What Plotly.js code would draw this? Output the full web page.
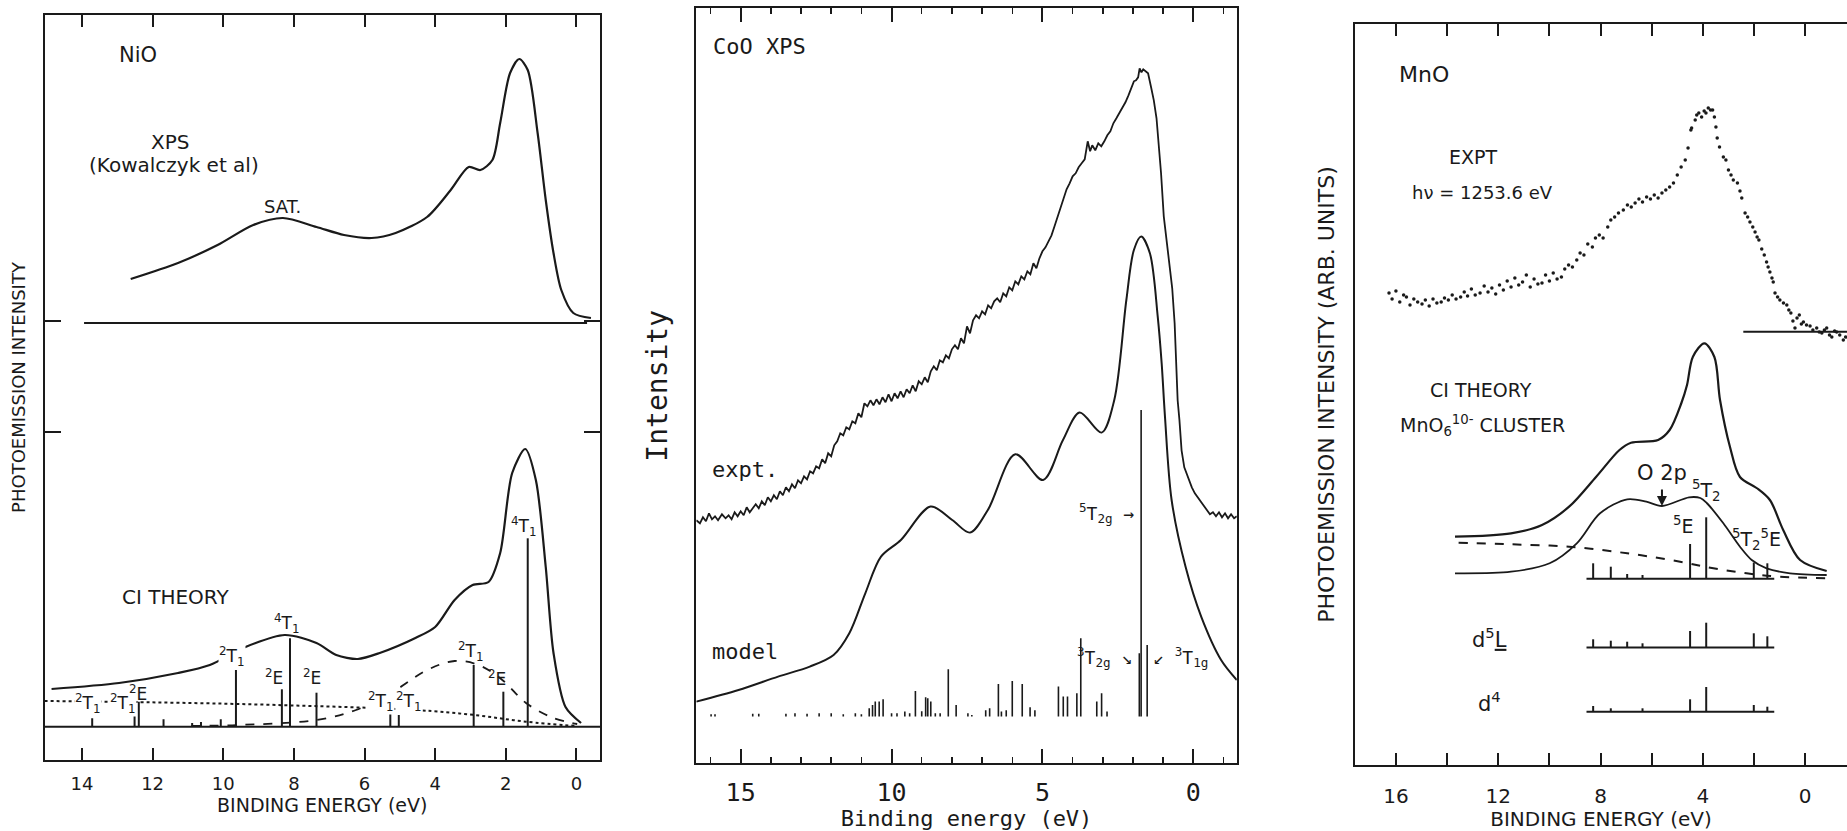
<!DOCTYPE html>
<html><head><meta charset="utf-8">
<script src="https://cdn.plot.ly/plotly-3.0.1.min.js"></script>
<style>html,body{margin:0;padding:0;background:#fff}#chart{width:1847px;height:831px}</style>
</head><body><div id="chart"></div>
<script>
// ================= NiO panel (energy eV, intensity arb.) =================
const niXpsE = [12.62, 11.28, 10.16, 9.15, 8.31, 7.36, 6.58, 5.80, 5.12, 4.23, 3.56, 3.05, 2.72, 2.38, 2.16, 1.88, 1.62, 1.38, 1.10, 0.87, 0.65, 0.43, 0.09, -0.41];
const niXpsV = [481, 497, 515, 535, 542, 533, 525, 522, 527, 543, 570, 593, 590, 600, 637, 687, 701, 690, 627, 560, 507, 470, 447, 442];
const niXpsBaseE = [13.94, -0.30];
const niXpsBaseV = [437, 437];
const niCiE = [14.86, 12.95, 11.28, 10.38, 9.37, 8.26, 7.36, 6.80, 6.19, 5.57, 4.56, 4.00, 3.45, 2.94, 2.49, 2.16, 1.82, 1.45, 1.15, 0.87, 0.65, 0.31, -0.13];
const niCiV = [71, 77, 87, 95, 113, 125, 117, 105, 101, 107, 122, 133, 160, 175, 178, 207, 287, 311, 280, 193, 107, 53, 37];
const niDashE = [10.9, 9.60, 7.36, 6.24, 5.12, 4.23, 3.45, 2.77, 2.10, 1.43, 0.65, -0.02];
const niDashV = [34, 35, 40, 50, 70, 90, 99, 95, 80, 57, 42, 36];
const niDotE = [15.06, 12.05, 8.48, 4.56, 2.89, 1.43, 0.0];
const niDotV = [59, 57.7, 55, 50, 45, 38.3, 34];
const niStickE = [13.71, 12.51, 12.39, 11.69, 10.88, 10.63, 10.07, 9.64, 8.34, 8.11, 7.36, 5.27, 5.03, 2.91, 2.07, 1.38];
const niStickV = [41.7, 45, 58.3, 40.7, 37, 38, 40.7, 90, 70.7, 121.7, 67.3, 48.3, 45, 95, 68.3, 221.7];
const niBaseE = [15.06, -0.666];
const niBaseV = [33.3, 33.3];
const niTicks = [14, 12, 10, 8, 6, 4, 2, 0];
const niYTicks = [328, 439];

// ================= CoO panel =================
const coExptE = [16.47,16.35,16.25,16.15,16.05,15.95,15.85,15.75,15.62,15.5,15.4,15.3,15.2,15.1,15.0,14.9,14.8,14.7,14.6,14.5,14.4,14.3,14.2,14.1,14.0,13.9,13.8,13.7,13.6,13.5,13.4,13.3,13.2,13.1,13.0,12.9,12.8,12.7,12.6,12.5,12.4,12.3,12.2,12.1,12.0,11.9,11.8,11.7,11.6,11.5,11.4,11.3,11.2,11.1,11.0,10.9,10.8,10.7,10.6,10.5,10.4,10.3,10.2,10.1,10.0,9.9,9.8,9.7,9.6,9.5,9.4,9.3,9.2,9.1,9.0,8.9,8.8,8.7,8.6,8.5,8.4,8.3,8.2,8.1,8.0,7.9,7.8,7.7,7.6,7.5,7.4,7.3,7.2,7.1,7.0,6.9,6.8,6.7,6.6,6.5,6.4,6.3,6.2,6.1,6.0,5.9,5.8,5.7,5.6,5.5,5.4,5.3,5.2,5.1,5.0,4.9,4.8,4.7,4.6,4.5,4.4,4.3,4.2,4.1,4.0,3.9,3.8,3.7,3.6,3.5,3.42,3.35,3.25,3.15,3.05,2.95,2.85,2.75,2.65,2.55,2.45,2.35,2.25,2.15,2.05,1.97,1.9,1.83,1.78,1.72,1.66,1.58,1.5,1.4,1.31,1.22,1.15,1.07,0.98,0.9,0.8,0.7,0.62,0.52,0.46,0.39,0.3,0.2,0.13,0.05,-0.05,-0.15,-0.25,-0.35,-0.45,-0.55,-0.65,-0.75,-0.85,-0.95,-1.05,-1.15,-1.25,-1.35,-1.44];
const coExptV = [243,240,246,242,250,244,247,243,249,245,248,244,251,247,252,248,256,251,255,259,255,262,258,266,262,268,264,272,268,276,272,279,275,283,280,287,284,292,290,297,295,304,300,310,307,318,322,330,328,336,334,342,340,350,346,360,357,363,358,364,359,366,361,369,362,370,365,372,366,374,370,378,372,382,379,386,381,392,397,393,403,401,408,405,414,418,414,425,420,437,430,443,448,445,452,449,458,455,462,465,461,470,467,476,473,482,479,487,484,492,489,500,495,505,512,516,522,528,537,546,556,565,574,580,587,590,596,600,604,622,612,618,613,620,617,622,628,632,640,645,650,655,661,668,675,682,683,686,695,691,694,692,690,676,663,645,622,590,547,525,500,475,440,363,343,313,296,288,282,276,270,266,262,257,253,249,251,247,251,246,250,245,249,245,247];
const coModelE = [16.47, 15.07, 13.76, 12.71, 11.92, 11.40, 10.87, 10.35, 9.69, 8.71, 7.99, 7.40, 6.81, 5.90, 4.98, 4.32, 3.77, 3.04, 2.62, 2.22, 1.97, 1.73, 1.44, 1.18, 1.05, 0.94, 0.72, 0.26, -0.26, -0.92, -1.44];
const coModelV = [61.7, 73.3, 86.7, 96.7, 108.3, 130, 170, 206.7, 223.3, 256.7, 243.3, 230.7, 253.3, 309, 283.3, 323.3, 350.7, 330.7, 363.3, 463.3, 513.3, 526.7, 510, 446.7, 400, 346.7, 263.3, 196.7, 146.7, 103.3, 83.3];
const coStickE = [1.73, 1.79, 1.53, 3.73, 3.86, 4.17, 4.31, 4.47, 3.04, 3.20, 2.86, 5.67, 6.00, 6.46, 5.41, 5.25, 6.20, 6.75, 6.88, 8.12, 9.21, 8.87, 8.80, 8.70, 10.28, 10.41, 10.54, 10.63, 10.74, 7.86, 6.36, 9.56, 9.82, 7.47, 7.34, 8.39, 8.55, 9.00, 9.40, 10.00, 15.98, 15.85, 14.60, 14.40, 13.50, 13.20, 12.80, 12.40, 12.00, 11.60, 11.20, 11.00];
const coStickV = [353.3, 110, 118.3, 125, 70, 66.7, 66.7, 76.7, 70, 61.7, 51.7, 79.3, 82.3, 79.3, 56, 53, 53, 55, 53, 94, 72.3, 66, 65, 61.7, 64, 61.7, 61.7, 58.3, 55, 58.3, 51.7, 51.7, 50, 50, 48.3, 50, 50, 52, 50, 50, 49, 49, 49.5, 49.5, 49.5, 50, 49.5, 50, 50, 49, 50, 49];
const coStickBase = 46.7;

// ================= MnO panel =================
const mnExptE = [16.27,16.15,16.0,15.85,15.7,15.59,15.45,15.3,15.15,14.98,14.85,14.7,14.55,14.4,14.23,14.1,13.95,13.8,13.65,13.47,13.33,13.2,13.05,12.9,12.71,12.55,12.4,12.25,12.1,11.95,11.8,11.65,11.5,11.35,11.2,11.05,10.9,10.75,10.6,10.45,10.29,10.15,10.0,9.85,9.7,9.53,9.4,9.25,9.1,8.93,8.8,8.65,8.5,8.32,8.2,8.05,7.9,7.72,7.6,7.45,7.3,7.11,6.95,6.8,6.65,6.5,6.36,6.2,6.05,5.9,5.75,5.6,5.45,5.3,5.15,5.0,4.85,4.69,4.58,4.47,4.44,4.3,4.24,4.16,4.05,3.95,3.88,3.79,3.7,3.62,3.55,3.49,3.44,3.35,3.2,3.1,3.0,2.9,2.81,2.65,2.55,2.48,2.35,2.25,2.16,2.05,1.96,1.88,1.81,1.7,1.6,1.51,1.45,1.38,1.3,1.25,1.18,1.08,0.99,0.85,0.72,0.64,0.56,0.48,0.40,0.32,0.23,0.15,0.07,-0.05,-0.19,-0.3,-0.45,-0.55,-0.65,-0.75,-0.84,-0.95,-1.04,-1.15,-1.23,-1.35,-1.49,-1.58];
const mnExptV = [472,466,474,463,470,468,460,466,463,461,465,459,466,462,463,467,465,470,466,468,473,469,476,470,472,479,473,477,471,480,475,484,478,487,480,483,490,478,486,481,482,490,484,492,486,488,496,500,498,505,512,510,521,518,527,530,527,538,545,548,552,555,560,558,562,566,563,568,566,570,567,572,575,578,582,590,598,605,617,635,637,645,650,652,648,654,652,657,655,655,648,638,627,618,608,605,595,590,585,582,574,567,552,548,543,538,533,528,525,516,510,503,498,493,487,483,472,468,465,462,460,455,452,444,437,447,450,441,443,440,439,435,437,433,432,435,437,430,428,434,433,430,425,428];
const mnExptBaseE = [2.42, -1.634];
const mnExptBaseV = [433.3, 433.3];
const mnTotE = [13.69, 11.50, 10.29, 9.23, 8.17, 7.26, 6.81, 5.75, 5.30, 4.84, 4.62, 4.39, 3.94, 3.55, 3.33, 2.94, 2.55, 1.90, 1.38, 0.86, 0.20, -0.84];
const mnTotV = [228.3, 231.7, 240, 258.3, 288.3, 315, 322.3, 325, 335, 362, 380, 408.3, 421.7, 408, 365, 318, 288, 277, 265, 235, 205, 194];
const mnO2pE = [13.69, 11.50, 9.99, 8.93, 8.02, 6.96, 6.21, 5.60, 4.54, 4.10, 3.85, 3.20, 2.55, 2.09, 1.51, 0.59, -0.84];
const mnO2pV = [191.7, 193.3, 201.7, 221.7, 251.7, 265.7, 263.3, 259, 267.7, 267, 262, 241.7, 218.3, 205, 196.7, 191.7, 190];
const mnDashE = [13.55, 11.50, 9.23, 6.96, 4.89, 3.59, 2.29, 0.99, -0.84];
const mnDashV = [222.3, 220.7, 218.3, 211.7, 203.3, 196.7, 191.7, 188.3, 186.7];
const mnStickE = [8.29, 7.60, 6.96, 6.36, 4.50, 3.87, 2.01, 1.48];
const mnCiStickV = [201.7, 198.3, 191, 190, 221, 247.7, 202.5, 201.7];
const mnD5LStickV = [125.7, 124.3, 123.3, 121.7, 134, 142.3, 131.7, 128.7];
const mnD4StickE = [8.29, 7.60, 6.36, 4.50, 3.87, 2.01, 1.48];
const mnD4StickV = [59, 56.7, 56.7, 65.7, 78, 60, 58.3];
const mnStickRowE = [8.55, 1.21];
const mnRowBase = {ci: 186.3, d5L: 117.5, d4: 53.2};

// ================= build =================
const INK = '#1a1a1a';
function sticks(E, top, base) {
  const x = [], y = [];
  E.forEach((e, i) => { x.push(e, e, null); y.push(base, top[i], null); });
  return {x, y};
}
function line(x, y, xa, ya, extra) {
  return Object.assign({type: 'scatter', mode: 'lines', x, y, xaxis: xa, yaxis: ya,
    line: {color: INK, width: 2}, hoverinfo: 'skip'}, extra || {});
}
const traces = [];
// NiO
traces.push(line(niXpsE, niXpsV, 'x', 'y', {line: {color: INK, width: 2.2, shape: 'spline', smoothing: 0.8}}));
traces.push(line(niXpsBaseE, niXpsBaseV, 'x', 'y'));
traces.push(line(niBaseE, niBaseV, 'x', 'y'));
traces.push(line(niDotE, niDotV, 'x', 'y', {line: {color: INK, width: 2, dash: 'dot', shape: 'spline'}}));
traces.push(line(niDashE, niDashV, 'x', 'y', {line: {color: INK, width: 1.8, dash: 'dash', shape: 'spline'}}));
traces.push(line(niCiE, niCiV, 'x', 'y', {line: {color: INK, width: 2.2, shape: 'spline', smoothing: 0.8}}));
const ns = sticks(niStickE, niStickV, niBaseV[0]);
traces.push(line(ns.x, ns.y, 'x', 'y', {line: {color: INK, width: 2}}));
// CoO
traces.push(line(coExptE, coExptV, 'x2', 'y2', {line: {color: INK, width: 1.8}}));
traces.push(line(coModelE, coModelV, 'x2', 'y2', {line: {color: INK, width: 2, shape: 'spline', smoothing: 0.9}}));
const cs = sticks(coStickE, coStickV, coStickBase);
traces.push(line(cs.x, cs.y, 'x2', 'y2', {line: {color: INK, width: 1.6}}));
// MnO
traces.push({type: 'scatter', mode: 'markers', x: mnExptE, y: mnExptV, xaxis: 'x3', yaxis: 'y3',
  marker: {color: INK, size: 3.5}, hoverinfo: 'skip'});
traces.push(line(mnExptBaseE, mnExptBaseV, 'x3', 'y3'));
traces.push(line(mnTotE, mnTotV, 'x3', 'y3', {line: {color: INK, width: 2.2, shape: 'spline', smoothing: 0.9}}));
traces.push(line(mnO2pE, mnO2pV, 'x3', 'y3', {line: {color: INK, width: 1.8, shape: 'spline', smoothing: 0.9}}));
traces.push(line(mnDashE, mnDashV, 'x3', 'y3', {line: {color: INK, width: 2, dash: 'dash', shape: 'spline'}}));
[['ci', mnStickE, mnCiStickV], ['d5L', mnStickE, mnD5LStickV], ['d4', mnD4StickE, mnD4StickV]].forEach(([k, E, V]) => {
  const b = mnRowBase[k];
  traces.push(line(mnStickRowE, [b, b], 'x3', 'y3'));
  const s = sticks(E, V, b);
  traces.push(line(s.x, s.y, 'x3', 'y3', {line: {color: INK, width: 2}}));
});

const fNi = 'DejaVu Sans', fCo = 'DejaVu Sans Mono', fMn = 'DejaVu Sans';
function ann(xa, ya, x, y, text, size, family, extra) {
  return Object.assign({xref: xa, yref: ya, x, y, text, showarrow: false,
    font: {family, size, color: INK}}, extra || {});
}
const bgW = {bgcolor: '#ffffff', borderpad: 0};
const T21 = '<sup>2</sup>T<sub>1</sub>', T41 = '<sup>4</sup>T<sub>1</sub>', E2 = '<sup>2</sup>E';
const annotations = [
  ann('x', 'y', 12.40, 705, 'NiO', 21, fNi),
  ann('x', 'y', 11.50, 618.3, 'XPS', 20, fNi),
  ann('x', 'y', 11.39, 595, '(Kowalczyk et al)', 20, fNi),
  ann('x', 'y', 8.31, 554, 'SAT.', 18, fNi),
  ann('x', 'y', 11.34, 163.3, 'CI THEORY', 20, fNi),
  ann('x', 'y', 1.49, 233.3, T41, 17, fNi),
  ann('x', 'y', 8.20, 136.7, T41, 17, fNi),
  ann('x', 'y', 9.74, 103.3, T21, 17, fNi, bgW),
  ann('x', 'y', 2.98, 108.3, T21, 17, fNi),
  ann('x', 'y', 5.52, 58.3, T21, 17, fNi, bgW),
  ann('x', 'y', 4.73, 58.3, T21, 17, fNi, bgW),
  ann('x', 'y', 13.83, 56.7, T21, 17, fNi, bgW),
  ann('x', 'y', 12.85, 56.7, T21, 17, fNi, bgW),
  ann('x', 'y', 8.56, 83.3, E2, 17, fNi),
  ann('x', 'y', 7.48, 83.3, E2, 17, fNi),
  ann('x', 'y', 2.24, 81.7, E2, 17, fNi),
  ann('x', 'y', 12.42, 67.3, E2, 17, fNi),

  ann('x2', 'y2', 15.98, 716.6, 'CoO XPS', 22, fCo, {xanchor: 'left'}),
  ann('x2', 'y2', 16.01, 293.3, 'expt.', 22, fCo, {xanchor: 'left'}),
  ann('x2', 'y2', 16.01, 111.6, 'model', 22, fCo, {xanchor: 'left'}),
  ann('x2', 'y2', 1.90, 250, '<sup>5</sup>T<sub>2g</sub> →', 18, fCo, {xanchor: 'right'}),
  ann('x2', 'y2', 1.97, 106.6, '<sup>3</sup>T<sub>2g</sub> ↘', 18, fCo, {xanchor: 'right'}),
  ann('x2', 'y2', 1.40, 106.6, '↙ <sup>3</sup>T<sub>1g</sub>', 18, fCo, {xanchor: 'left'}),

  ann('x3', 'y3', 15.96, 690, 'MnO', 22, fMn, {xanchor: 'left'}),
  ann('x3', 'y3', 12.97, 608.3, 'EXPT', 19, fMn),
  ann('x3', 'y3', 12.63, 572.3, 'hν = 1253.6 eV', 18, fMn),
  ann('x3', 'y3', 12.66, 375, 'CI THEORY', 19, fMn),
  ann('x3', 'y3', 12.63, 340, 'MnO<sub>6</sub><sup>10-</sup> CLUSTER', 19, fMn),
  ann('x3', 'y3', 5.60, 291.7, 'O 2p', 21, fMn),
  {xref: 'x3', yref: 'y3', x: 5.60, y: 259, ax: 0, ay: -18, text: '', showarrow: true,
   arrowhead: 2, arrowsize: 1, arrowwidth: 2, arrowcolor: INK},
  ann('x3', 'y3', 3.86, 275, '<sup>5</sup>T<sub>2</sub>', 19, fMn),
  ann('x3', 'y3', 4.77, 240, '<sup>5</sup>E', 19, fMn),
  ann('x3', 'y3', 1.92, 225.7, '<sup>5</sup>T<sub>2</sub><sup>5</sup>E', 19, fMn),
  ann('x3', 'y3', 12.33, 126.7, 'd<sup>5</sup><u>L</u>', 21, fMn),
  ann('x3', 'y3', 12.33, 63.3, 'd<sup>4</sup>', 21, fMn)
];

const W = 1847, H = 831;
function dx(a, b) { return [a / W, b / W]; }
function dy(top, bot) { return [1 - bot / H, 1 - top / H]; }
const frame = {showline: true, linecolor: INK, linewidth: 2, showgrid: false, zeroline: false,
  tickcolor: INK, tickwidth: 2};
const layout = {
  width: W, height: H, margin: {l: 0, r: 0, t: 0, b: 0},
  paper_bgcolor: '#fff', plot_bgcolor: 'rgba(0,0,0,0)', showlegend: false, hovermode: false,
  xaxis: Object.assign({}, frame, {domain: dx(44.5, 600), range: [15.06, -0.666], anchor: 'y',
    tickmode: 'array', tickvals: niTicks, ticks: 'inside', ticklen: 12, mirror: 'ticks',
    ticklabelstandoff: 6, tickfont: {family: fNi, size: 18, color: INK},
    title: {text: 'BINDING ENERGY (eV)', font: {family: fNi, size: 19, color: INK}, standoff: 5}}),
  yaxis: Object.assign({}, frame, {domain: dy(15, 760), range: [0, 745], anchor: 'x',
    tickmode: 'array', tickvals: niYTicks, ticks: 'inside', ticklen: 16, mirror: 'ticks',
    showticklabels: false,
    title: {text: 'PHOTOEMISSION INTENSITY', font: {family: fNi, size: 18, color: INK}, standoff: 12}}),
  xaxis2: Object.assign({}, frame, {domain: dx(696.3, 1236.8), range: [16.47, -1.44], anchor: 'y2',
    tickmode: 'linear', tick0: 0, dtick: 5, ticks: 'inside', ticklen: 14, mirror: 'ticks',
    minor: {tickmode: 'linear', tick0: 0, dtick: 1, ticks: 'inside', ticklen: 6, tickcolor: INK, tickwidth: 1.5},
    ticklabelstandoff: 6, tickfont: {family: fCo, size: 25, color: INK},
    title: {text: 'Binding energy (eV)', font: {family: fCo, size: 22, color: INK}, standoff: 4}}),
  yaxis2: Object.assign({}, frame, {domain: dy(8.3, 763.3), range: [0, 755], anchor: 'x2',
    ticks: '', showticklabels: false, mirror: true,
    title: {text: 'Intensity', font: {family: fCo, size: 28, color: INK}, standoff: 18}}),
  xaxis3: Object.assign({}, frame, {domain: dx(1355, 1847), range: [17.6, -1.634], anchor: 'y3',
    tickmode: 'linear', tick0: 0, dtick: 4, ticks: 'inside', ticklen: 12, mirror: 'ticks',
    minor: {tickmode: 'linear', tick0: 0, dtick: 2, ticks: 'inside', ticklen: 12, tickcolor: INK, tickwidth: 2},
    ticklabelstandoff: 12, tickfont: {family: fMn, size: 20, color: INK},
    title: {text: 'BINDING ENERGY (eV)', font: {family: fMn, size: 20, color: INK}, standoff: 2}}),
  yaxis3: Object.assign({}, frame, {domain: dy(24, 765), range: [0, 741], anchor: 'x3',
    ticks: '', showticklabels: false, mirror: false,
    title: {text: 'PHOTOEMISSION INTENSITY (ARB. UNITS)', font: {family: fMn, size: 22, color: INK}, standoff: 12}}),
  annotations
};
Plotly.newPlot('chart', traces, layout, {staticPlot: true, displayModeBar: false});
</script></body></html>
